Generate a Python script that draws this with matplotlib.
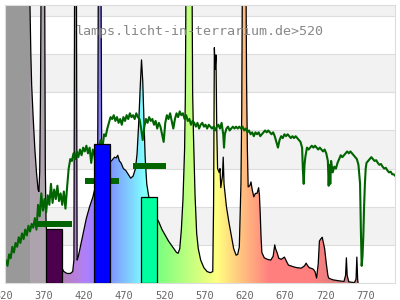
import matplotlib
matplotlib.use("Agg")
import matplotlib.pyplot as plt
from matplotlib.transforms import ScaledTranslation
import numpy as np

# Lampenspektrum (nm, relative Intensität); Werte > 7.3 liegen oberhalb der Achse
lamp_nm = [316, 346, 347, 348, 349, 350, 352, 354, 356, 358, 359, 360, 361, 362, 366, 367, 368,
           370, 374, 378, 382, 386, 390, 394, 398, 401, 402.5, 403.5, 405.5, 406.5, 408, 410, 414,
           418, 422, 426, 430, 432, 433, 436, 437, 440, 445, 449, 451, 453, 455, 457, 459, 461,
           464, 467, 470, 473, 476, 479, 481, 483, 485, 486.5, 488, 489.5, 491, 493, 496, 500,
           504, 508, 512, 516, 520, 525, 530, 532, 534, 536, 538, 540, 541, 542, 549, 550, 551,
           553, 555, 557, 560, 564, 568, 572, 575, 576, 577, 578, 579, 580, 581, 583, 584, 585,
           587, 588, 589, 590, 592, 595, 598, 601, 604, 606, 608, 609, 610, 611, 612, 616, 617,
           618, 619, 621, 622.5, 624, 626, 628, 630, 632, 633, 634, 635, 636, 639, 643, 647, 650,
           652, 653, 655, 657, 660, 664, 667, 669, 673, 676, 680, 685, 689, 691, 693, 695, 698,
           700, 702, 704, 706, 707.5, 709, 711, 712.5, 714, 716, 718, 719, 722, 725, 731, 738,
           740, 741, 742, 744, 751, 753, 754, 755, 755.5]
lamp_val = [10, 10, 9.5, 7.2, 6.0, 5.2, 4.3, 3.5, 2.9, 2.45, 2.4, 2.9, 5.0, 9, 9, 3.0, 1.5,
            1.1, 0.8, 0.6, 0.5, 0.45, 0.3, 0.25, 0.25, 0.3, 0.6, 9, 9, 0.6, 0.7, 0.9, 1.3,
            1.7, 2.0, 2.25, 2.6, 3.0, 9, 9, 3.6, 3.3, 3.2, 3.2, 3.25, 3.3, 3.28, 3.35, 3.2, 3.15,
            3.0, 2.95, 2.85, 2.75, 2.8, 3.0, 3.4, 4.2, 5.2, 5.85, 5.3, 4.3, 3.3, 2.6, 2.2, 1.95,
            1.75, 1.6, 1.4, 1.25, 1.1, 0.95, 0.8, 0.78, 0.9, 1.4, 2.2, 3.5, 5.0, 9, 9, 5.0, 3.9,
            2.3, 1.3, 0.9, 0.6, 0.4, 0.3, 0.27, 0.3, 2.0, 6.17, 5.6, 5.98, 4.0, 3.0, 2.9, 3.0, 2.5,
            2.8, 3.3, 2.6, 2.4, 2.0, 1.6, 1.25, 0.9, 0.73, 0.75, 0.95, 1.8, 2.6, 4.5, 9, 9, 5.3,
            3.5, 2.52, 2.55, 2.65, 2.45, 2.26, 2.35, 2.35, 2.5, 2.3, 1.8, 1.2, 0.8, 0.66, 0.62, 0.6, 0.7,
            1.0, 0.9, 0.79, 0.65, 0.62, 0.68, 0.55, 0.47, 0.44, 0.42, 0.4, 0.39, 0.45, 0.52, 0.45, 0.4, 0.38,
            0.36, 0.3, 0.13, 0.5, 1.1, 1.15, 1.2, 1.05, 0.9, 0.52, 0.2, 0.13, 0.1, 0.08, 0.06, 0.04,
            0.2, 0.66, 0.2, 0.03, 0.01, 0.1, 0.68, 0.1, 0.0]

# Sonnenspektrum (grüne Linie)
sun_nm = [316, 318, 320, 322, 324, 326, 328, 330, 332, 334, 336, 338, 340, 342, 344, 346, 348,
          350, 352, 354, 356, 358, 360, 362, 364, 366, 368, 370, 372, 374, 376, 378, 380, 382,
          384, 386, 388, 390, 392, 394, 396, 398, 400, 402, 404, 406, 408, 410, 412, 414, 416,
          418, 420, 422, 424, 426, 428, 430, 432, 434, 436, 438, 440, 442, 444, 446, 448, 450,
          452, 454, 456, 458, 460, 462, 464, 466, 468, 470, 472, 474, 476, 478, 480, 482, 484,
          486, 488, 490, 492, 494, 496, 498, 500, 502, 504, 506, 508, 510, 512, 514, 516, 518,
          520, 522, 524, 526, 528, 530, 532, 534, 536, 538, 540, 542, 544, 546, 548, 550, 552,
          554, 556, 558, 560, 562, 564, 566, 568, 570, 572, 574, 576, 578, 580, 582, 584, 586,
          588, 589, 590, 592, 594, 596, 598, 600, 602, 604, 606, 608, 610, 612, 614, 616, 618,
          620, 622, 624, 626, 628, 630, 632, 634, 636, 638, 640, 642, 644, 646, 648, 650, 652,
          654, 656, 658, 660, 662, 664, 666, 668, 670, 672, 674, 676, 678, 680, 682, 684, 686,
          687, 688, 689, 690, 692, 694, 696, 698, 700, 702, 704, 706, 708, 710, 712, 714, 716,
          718, 719, 720, 721, 722, 724, 726, 728, 730, 732, 734, 736, 738, 740, 742, 744, 746,
          748, 750, 752, 754, 756, 758, 759, 760, 761, 762, 763, 764, 765, 766, 768, 770, 772,
          774, 776, 778, 780, 782, 784, 786, 788, 790, 792, 794, 796, 798, 800, 802, 804]
sun_val = [0.50, 0.60, 0.45, 0.75, 0.65, 0.95, 0.80, 1.05, 0.95, 1.20, 1.05, 1.30, 1.15, 1.40,
           1.25, 1.50, 1.35, 1.55, 1.45, 1.70, 1.40, 2.05, 1.75, 2.35, 1.90, 2.20, 1.85, 2.30,
           2.05, 2.60, 2.10, 2.45, 2.20, 2.55, 2.15, 2.35, 2.05, 2.40, 1.95, 2.50, 3.00, 3.25,
           3.20, 3.40, 3.25, 3.45, 3.30, 3.50, 3.35, 3.55, 3.45, 3.60, 3.40, 3.55, 3.15, 3.50,
           3.35, 2.95, 3.40, 3.60, 3.75, 3.55, 3.90, 3.85, 4.05, 4.20, 4.35, 4.30, 4.40, 4.25,
           4.35, 4.20, 4.30, 4.15, 4.35, 4.25, 4.40, 4.30, 4.45, 4.35, 4.40, 4.30, 4.45, 4.35,
           4.30, 4.05, 3.75, 4.10, 4.30, 4.20, 4.35, 4.25, 4.30, 4.15, 4.25, 4.05, 4.20, 4.10,
           3.90, 3.70, 4.20, 4.40, 4.30, 4.45, 4.25, 4.05, 4.30, 4.45, 4.35, 4.50, 4.40, 4.45,
           4.30, 4.40, 4.25, 4.30, 4.15, 4.25, 4.20, 4.10, 4.20, 4.05, 4.15, 4.20, 4.10, 4.15,
           4.05, 4.15, 4.10, 4.05, 4.10, 4.00, 4.10, 4.15, 4.05, 4.20, 3.90, 3.55, 3.90, 4.05,
           4.10, 4.00, 4.05, 4.10, 4.05, 4.10, 4.05, 4.10, 4.05, 4.10, 4.00, 4.05, 3.95, 4.00,
           3.90, 3.95, 3.85, 3.95, 3.90, 3.95, 3.85, 3.90, 3.95, 4.00, 3.95, 4.00, 3.95, 3.90,
           3.95, 3.85, 3.70, 3.55, 3.75, 3.85, 3.80, 3.90, 3.85, 3.90, 3.85, 3.80, 3.85, 3.80,
           3.85, 3.80, 3.75, 3.70, 3.55, 2.95, 2.60, 3.10, 3.30, 3.55, 3.50, 3.55, 3.60, 3.55,
           3.60, 3.55, 3.50, 3.55, 3.50, 3.45, 3.50, 3.40, 3.20, 2.55, 3.10, 2.60, 3.20, 2.90,
           3.05, 3.00, 3.15, 3.25, 3.35, 3.30, 3.35, 3.40, 3.45, 3.40, 3.45, 3.40, 3.35, 3.30,
           3.25, 3.10, 2.60, 1.40, 0.45, 0.70, 1.20, 2.00, 2.60, 3.00, 3.15, 3.20, 3.25, 3.30,
           3.25, 3.20, 3.22, 3.15, 3.10, 3.12, 3.05, 3.00, 3.02, 2.95, 2.90, 2.92, 2.85, 2.85,
           2.80, 2.78]

# Balken (Lampe) und Vergleichsstufen (Sonne) je Bereich
bar_lo = [367.5, 427.5, 486]
bar_hi = [387.5, 447.5, 506]
bar_val = [1.42, 3.65, 2.26]
bar_colors = ["#4d004d", "#0000ff", "#00ffa0"]
seg_lo = [354, 416, 476]
seg_hi = [400, 459, 517]
seg_val = [1.55, 2.68, 3.07]

xticks = [320, 370, 420, 470, 520, 570, 620, 670, 720, 770]
title = "lamps.licht-in-terrarium.de>520"

X0, X1 = 316.9, 801.4
YMAX = 7.29
MAUVE = (0.675, 0.643, 0.675)


def spec_color(w):
    """Pastellfarbe zu einer Wellenlänge (Spektralfarbe halb mit Weiß gemischt)."""
    if w < 348:
        return (0.6, 0.6, 0.6)
    if w < 376:
        return MAUVE
    wc = max(w, 380)
    if wc < 440:
        r, g, b = -(wc - 440) / 60, 0, 1
    elif wc < 490:
        r, g, b = 0, (wc - 440) / 50, 1
    elif wc < 510:
        r, g, b = 0, 1, -(wc - 510) / 20
    elif wc < 580:
        r, g, b = (wc - 510) / 70, 1, 0
    elif wc < 645:
        r, g, b = 1, -(wc - 645) / 65, 0
    else:
        r, g, b = 1, 0, 0
    if wc < 420:
        f = 0.3 + 0.7 * (wc - 380) / 40
    elif wc > 700:
        f = 0.3 + 0.7 * max(780 - wc, 0) / 80
    else:
        f = 1.0
    c = 0.5 * np.array([r, g, b]) * f + 0.5
    if w < 380:
        t = (w - 376) / 4
        c = (1 - t) * np.array(MAUVE) + t * c
    return tuple(c)


fig = plt.figure(figsize=(4, 3), dpi=100)
ax = fig.add_axes([5 / 400, 17 / 300, 390 / 400, 278 / 300])
ax.set_xlim(X0, X1)
ax.set_ylim(0, YMAX)

# Hintergrundstreifen
for k in range(8):
    if k % 2 == 1:
        ax.axhspan(k, k + 1, color="#f2f2f2", lw=0, zorder=0)
    ax.axhline(k, color="#dddddd", lw=0.8, zorder=0.5)

# Lampenspektrum mit Farbverlauf
grid = np.arange(X0, X1, 0.25)
img = np.array([[spec_color(w) for w in grid]])
poly = ax.fill_between(lamp_nm, lamp_val, 0, color="none", lw=0, zorder=1)
im = ax.imshow(img, extent=[X0, X1, 0, 12], aspect="auto", origin="lower",
               interpolation="nearest", zorder=1)
im.set_clip_path(poly.get_paths()[0], transform=ax.transData)
ax.set_xlim(X0, X1)
ax.set_ylim(0, YMAX)
ax.plot(lamp_nm, lamp_val, color="black", lw=0.9, zorder=2)

# Sonnenspektrum
ax.plot(sun_nm, sun_val, color="#006400", lw=1.5, zorder=2.5)
for lo, hi, v in zip(seg_lo, seg_hi, seg_val):
    ax.plot([lo, hi], [v, v], color="#006400", lw=4.3, solid_capstyle="butt", zorder=2.6)

# Balken
for lo, hi, v, c in zip(bar_lo, bar_hi, bar_val, bar_colors):
    ax.bar(lo, v, width=hi - lo, align="edge", color=c, edgecolor="black", lw=0.9, zorder=3)

ax.set_xticks(xticks)
ax.set_xticklabels([str(t) for t in xticks], family="DejaVu Sans Mono", fontsize=7.5,
                   color="#666666")
ax.tick_params(axis="x", length=0, pad=6)
shift = ScaledTranslation(-4 / 100, 0, fig.dpi_scale_trans)
for lab in ax.get_xticklabels():
    lab.set_transform(lab.get_transform() + shift)
ax.set_yticks([])
for s in ax.spines.values():
    s.set_color("#dddddd")
    s.set_linewidth(0.8)

fig.text(0.5, 1 - 31 / 300, title, ha="center", va="center", family="DejaVu Sans Mono",
         fontsize=9.6, color="#888888")

fig.savefig("out.png", dpi=100)
